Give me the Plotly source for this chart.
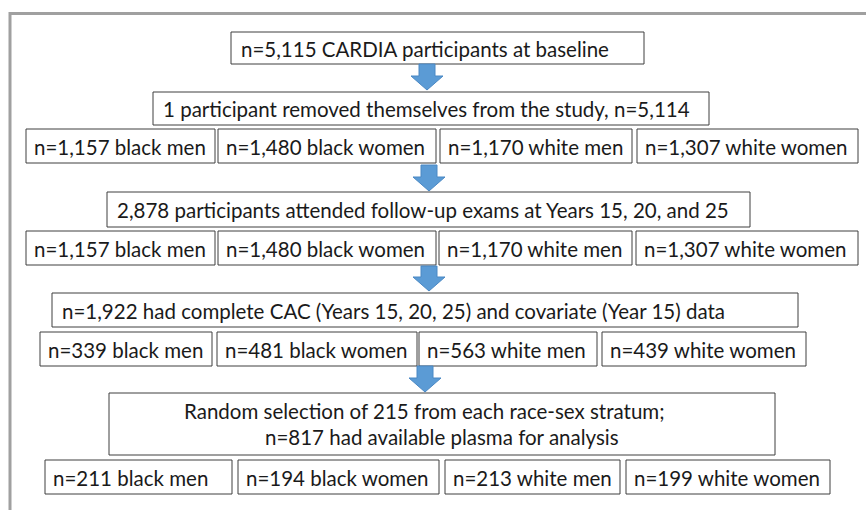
import plotly.graph_objects as go

# ---- data ----
stage_texts = [
    "n=5,115 CARDIA participants at baseline",
    "1 participant removed themselves from the study, n=5,114",
    "2,878 participants attended follow-up exams at Years 15, 20, and 25",
    "n=1,922 had complete CAC (Years 15, 20, 25) and covariate (Year 15) data",
]
final_stage_lines = [
    "Random selection of 215 from each race-sex stratum;",
    "n=817 had available plasma for analysis",
]
groups = ["black men", "black women", "white men", "white women"]
counts_enrolled = [1157, 1480, 1170, 1307]
counts_followup = [1157, 1480, 1170, 1307]
counts_cac = [339, 481, 563, 439]
counts_plasma = [211, 194, 213, 199]

# ---- layout (pixel geometry) ----
W, H = 866, 510
FONT = "Lato"
FS = 20.5
TXT = "#1a1a1a"
BORDER = "#3f3f3f"
ARROW = "#5b9bd5"

stage_boxes = [  # x0, x1, y0, y1
    (231, 644, 32, 64),
    (153, 709, 92, 125),
    (107, 750, 192, 227),
    (52, 798, 293, 327),
]
final_box = (109, 775, 393, 455)
row_boxes = [
    ([(26, 215), (218, 436), (440, 632), (637, 858)], (129, 163)),
    ([(26, 215), (218, 436), (439, 632), (636, 858)], (231, 265)),
    ([(40, 212), (217, 417), (419, 597), (602, 806)], (332, 366)),
    ([(45, 232), (238, 439), (445, 620), (626, 830)], (460, 494)),
]
arrows = [  # cx, top, bottom
    (427, 64, 90),
    (429, 165, 191),
    (429, 266, 291),
    (425, 366, 392),
]

shapes = []
annotations = []


def box(x0, x1, y0, y1):
    shapes.append(dict(type="rect", x0=x0, x1=x1, y0=y0, y1=y1,
                       line=dict(color=BORDER, width=1), fillcolor="white",
                       layer="below"))


def text(x, y, s, anchor="left"):
    annotations.append(dict(x=x, y=y, text=s, showarrow=False, xanchor=anchor,
                            yanchor="middle", xref="x", yref="y",
                            font=dict(family=FONT, size=FS, color=TXT)))


# outer frame (top & left)
shapes.append(dict(type="line", x0=10, x1=W + 5, y0=13.5, y1=13.5,
                   line=dict(color="#a0a0a0", width=3)))
shapes.append(dict(type="line", x0=10, x1=10, y0=12, y1=H + 5,
                   line=dict(color="#a0a0a0", width=3)))

for s, (x0, x1, y0, y1) in zip(stage_texts, stage_boxes):
    box(x0, x1, y0, y1)
    text(x0 + 8, (y0 + y1) / 2 + 0.5, s)

x0, x1, y0, y1 = final_box
box(x0, x1, y0, y1)
text(424, y0 + 18, final_stage_lines[0], anchor="center")
text(442, y0 + 44, final_stage_lines[1], anchor="center")

all_counts = [counts_enrolled, counts_followup, counts_cac, counts_plasma]
for counts, (xs, (y0, y1)) in zip(all_counts, row_boxes):
    for c, g, (bx0, bx1) in zip(counts, groups, xs):
        box(bx0, bx1, y0, y1)
        text(bx0 + 6, (y0 + y1) / 2 + 0.5, f"n={c:,} {g}")

for cx, top, bot in arrows:
    neck = bot - 14
    path = (f"M {cx-8},{top} L {cx+8},{top} L {cx+8},{neck} L {cx+16},{neck} "
            f"L {cx},{bot} L {cx-16},{neck} L {cx-8},{neck} Z")
    shapes.append(dict(type="path", path=path, fillcolor=ARROW,
                       line=dict(color="#4a88c4", width=1)))

fig = go.Figure()
fig.add_trace(go.Scatter(x=[0], y=[0], mode="markers",
                         marker=dict(opacity=0), hoverinfo="skip",
                         showlegend=False))
fig.update_layout(
    width=W, height=H, margin=dict(l=0, r=0, t=0, b=0),
    paper_bgcolor="white", plot_bgcolor="white",
    xaxis=dict(range=[0, W], visible=False, fixedrange=True),
    yaxis=dict(range=[H, 0], visible=False, fixedrange=True),
    shapes=shapes, annotations=annotations, showlegend=False,
)
fig.write_html("out.html", config={"displayModeBar": False},
               post_script="document.body.style.margin='0';"
                           "document.body.style.overflow='hidden';")
